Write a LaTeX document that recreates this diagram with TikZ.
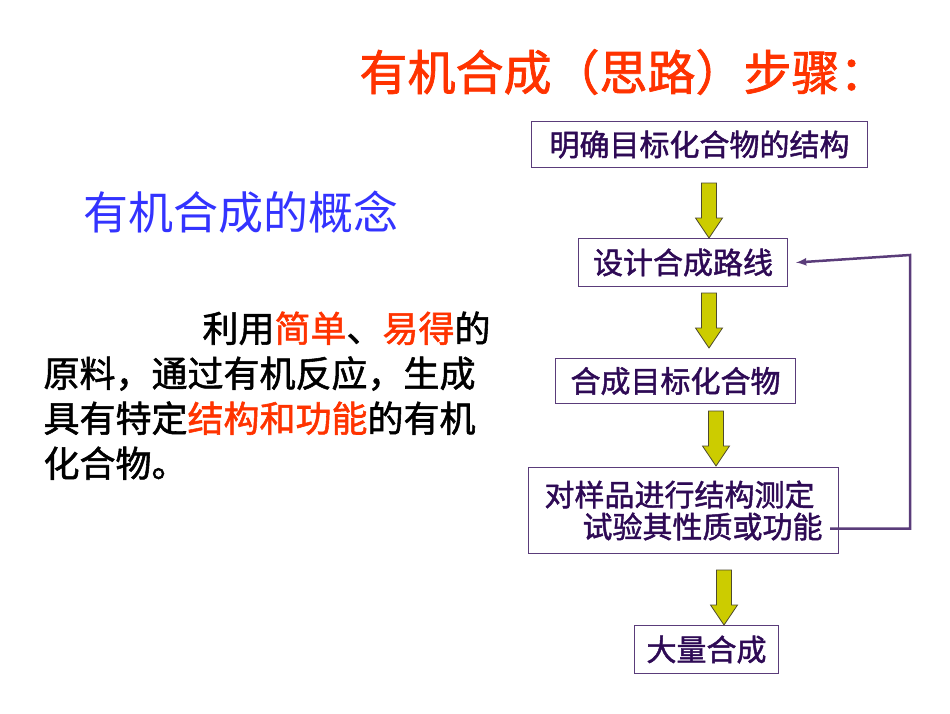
\documentclass[tikz,border=0pt]{standalone}
\usepackage{fontspec}
\usepackage{xcolor}
\newfontfamily\cjk[AutoFakeBold=1.5]{Noto Sans CJK SC}
\usetikzlibrary{positioning,calc}
\definecolor{boxline}{HTML}{5A3C7A}
\definecolor{boxtext}{HTML}{2E0A55}
\definecolor{stepred}{HTML}{FF3300}
\definecolor{arrowfill}{HTML}{CCCC00}
\definecolor{titleblue}{HTML}{3333FF}
\tikzset{
  stepbox/.style={draw=boxline, line width=1pt, text=boxtext, inner sep=0pt,
    font=\cjk\bfseries\fontsize{30}{34}\selectfont, anchor=north west},
  fatarrow/.style={draw=black!60!olive, fill=arrowfill, line width=0.8pt},
}
% fat down arrow with its tip at the named node
\newcommand\fatdown[2]{%
  \coordinate (#1) at (#2);
  \path[fatarrow] ($(#1)+(-7.5,-55)$) -- ($(#1)+(7.5,-55)$) -- ($(#1)+(7.5,-20)$)
    -- ($(#1)+(13.5,-20)$) -- (#1) -- ($(#1)+(-13.5,-20)$) -- ($(#1)+(-7.5,-20)$) -- cycle;}
\begin{document}
\begin{tikzpicture}[x=1pt,y=-1pt]
\useasboundingbox (0,0) rectangle (950,713);
%title
\node[text=stepred, font=\cjk\bfseries\fontsize{48}{52}\selectfont, anchor=west] (title) at (356,72) {有机合成（思路）步骤：};
\node[text=titleblue, font=\cjk\fontsize{45}{50}\selectfont, anchor=west] (concept) at (80,212) {有机合成的概念};
\node[font=\cjk\bfseries\fontsize{36}{45}\selectfont, anchor=north west, align=left, text width=460pt] (define) at (40,308)
  {\hspace*{159pt}利用\textcolor{stepred}{简单}、\textcolor{stepred}{易得}的\\
   原料，通过有机反应，生成\\
   具有特定\textcolor{stepred}{结构和功能}的有机\\
   化合物。};
%boxes
\node[stepbox, minimum width=336pt, minimum height=46pt] (goal) at (531,121) {明确目标化合物的结构};
\node[stepbox, minimum width=209pt, minimum height=48pt] (route) at (578,238) {设计合成路线};
\node[stepbox, minimum width=240pt, minimum height=45pt] (make) at (555,358) {合成目标化合物};
\node[stepbox, minimum width=310pt, minimum height=86pt, align=left] (test) at (528,467)
  {对样品进行结构测定\\[-2pt]\hspace*{38pt}试验其性质或功能};
\node[stepbox, minimum width=144pt, minimum height=48pt] (mass) at (634,625) {大量合成};
%fat arrows
\fatdown{a1}{709,238}
\fatdown{a2}{709,348}
\fatdown{a3}{716,466}
\fatdown{a4}{724,625}
%feedback
\coordinate (back) at (910,255);
\draw[boxline, line width=2.5pt, -latex] ($(test.east)+(-9,18)$) -| (back) -- ($(route.east)+(8,0)$);
\end{tikzpicture}
\end{document}
